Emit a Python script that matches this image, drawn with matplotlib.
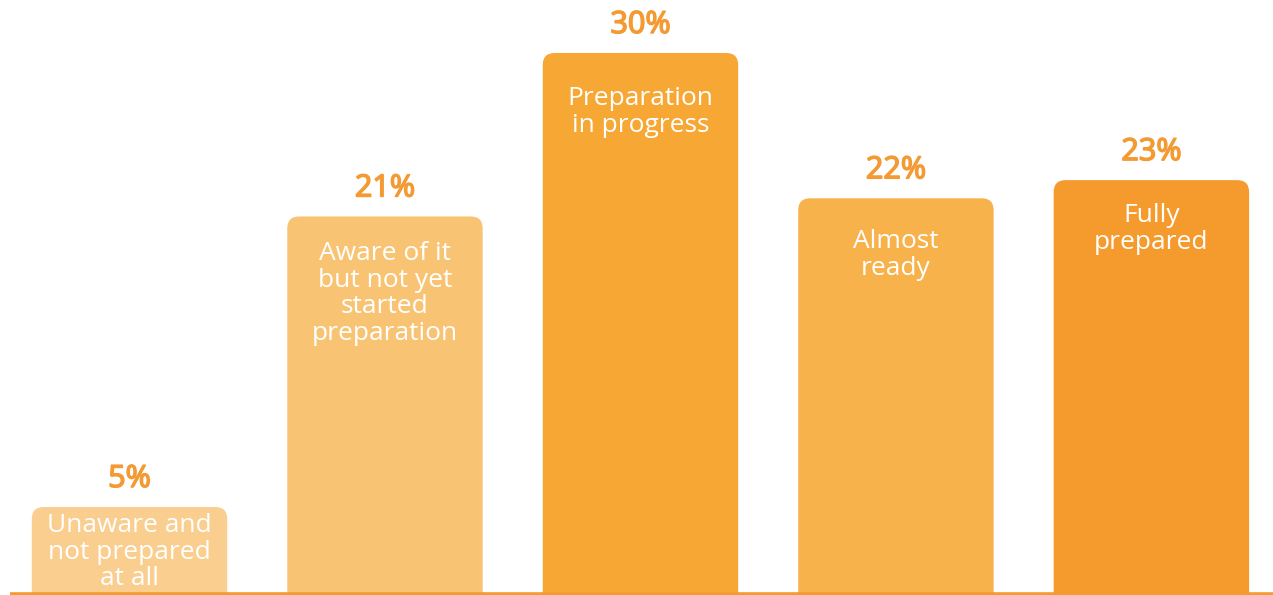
import matplotlib.pyplot as plt
import matplotlib.patheffects as pe
from matplotlib.patches import FancyBboxPatch

plt.rcParams['font.family'] = ['Open Sans', 'DejaVu Sans']

# data
categories = [
    "Unaware and\nnot prepared\nat all",
    "Aware of it\nbut not yet\nstarted\npreparation",
    "Preparation\nin progress",
    "Almost\nready",
    "Fully\nprepared",
]
values = [5, 21, 30, 22, 23]
value_labels = ["5%", "21%", "30%", "22%", "23%"]

# styles
bar_colors = ["#F9CE8E", "#F8C474", "#F6A734", "#F7B24C", "#F59B2E"]
label_color = "#F39A33"
text_drop = [16, 35, 43, 41, 33]   # px from bar top to first text line centre

fig = plt.figure(figsize=(12.73, 5.95), dpi=100)
ax = fig.add_axes([0, 0, 1, 1])
px_x = 1 / 255.5   # data units per pixel
px_y = 1 / 18.16
ax.set_xlim(-0.507, 4.476)
ax.set_ylim(0.154, 0.154 + 595 * px_y)
ax.axis('off')

width = 0.765
radius = 12 * px_x
aspect = (12 * px_y) / radius

for i, (v, c) in enumerate(zip(values, bar_colors)):
    box = FancyBboxPatch((i - width / 2, -3), width, v + 3,
                         boxstyle=f"round,pad=0,rounding_size={radius}",
                         mutation_aspect=aspect, facecolor=c, edgecolor='none',
                         zorder=2)
    ax.add_patch(box)
    ax.text(i, v + 28 * px_y, value_labels[i], ha='center', va='center',
            fontsize=22, color=label_color, zorder=3,
            path_effects=[pe.withStroke(linewidth=1.1, foreground=label_color)])
    ax.text(i, v - (text_drop[i] - 10) * px_y, categories[i], ha='center',
            va='top', fontsize=19, color='white', linespacing=1.08, zorder=3)

# baseline
base_y = 0.154 + 1.5 * px_y
ax.plot([-0.507 + 10 * px_x, 4.476], [base_y, base_y], color="#F59B2E",
        linewidth=2.6, solid_capstyle='butt', zorder=4)

fig.savefig("out.png", dpi=100)
